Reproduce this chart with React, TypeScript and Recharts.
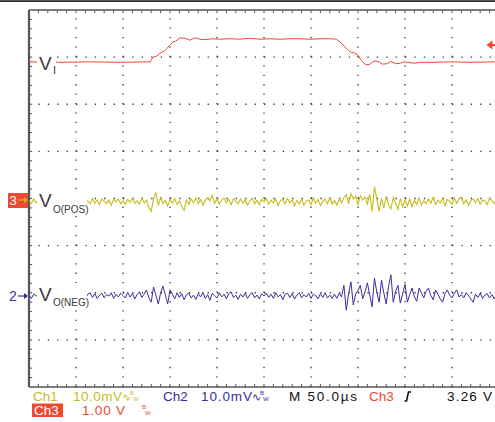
import { ComposedChart, Line, XAxis, YAxis, ReferenceLine } from "recharts";

// Scope screenshot: Ch1 / Ch2 at 10 mV/div, Ch3 at 1 V/div, 50 µs/div.
const SAMPLE_US = 2.5;

// Ch1 (VO(POS)) deviation, mV, one value per 2.5 µs
const ch1Noise = [
  0.3, -0.4, 0.6, -0.2, 0.4, -0.5, 0.2, 0.5, -0.3, 0.1,
  -0.6, 0.4, 0.0, 0.5, -0.4, 0.3, -0.2, 0.6, -0.5, 0.2,
  0.4, -0.3, 0.1, -0.6, 0.5, 0.2, -0.4, 0.7, -0.3, 0.4,
  -0.5, 0.6, 0.1, -0.4, 0.3, -0.7, 0.5, 0.0, 0.6, -0.4,
  0.2, -0.6, 0.5, -0.1, 0.7, -0.3, 0.2, -0.5, 0.8, -0.2,
  0.4, -1.2, -2.0, 0.6, 1.9, -0.8, 0.9, -0.4, 0.3, -0.9,
  0.5, -0.3, 0.7, -0.6, 0.2, -1.0, -1.8, 0.4, -0.5, 0.6,
  -0.2, 0.8, -0.4, 0.5, -0.7, 0.3, 0.9, 0.2, 1.4, -0.3,
  0.6, -0.5, 0.4, 0.8, -0.2, 0.5, -0.6, 0.7, 0.1, -0.4,
  0.6, -0.3, 0.4, -0.7, 0.2, 0.8, -0.4, 0.3, -0.6, 0.5,
  0.0, 0.7, -0.5, 0.4, -0.2, 0.6, -0.8, 0.3, 0.5, -0.4,
  0.7, -0.2, 0.4, -0.9, 0.3, -0.5, 0.6, -0.7, 0.2, 0.4,
  -0.6, 0.8, -0.3, 0.5, -0.8, 0.1, 0.6, -0.4, 0.9, -0.5,
  0.3, -0.7, 0.6, -0.2, 0.9, 1.5, -0.4, 1.7, 0.6, 1.2,
  -0.6, 1.3, 0.4, 1.0, -0.5, 1.6, -2.1, 3.2, 0.5, -2.1,
  0.8, -1.3, 1.2, -0.6, -1.5, 0.9, -0.3, -1.6, 0.7, -1.1,
  0.4, -0.9, 0.6, -1.0, 0.3, -0.5, 0.8, -0.7, 0.2, -0.4,
  0.6, -0.3, 0.9, -0.6, 0.4, -0.2, 0.7, -0.8, 0.5, 0.1,
  -0.5, 0.8, -0.3, 0.6, 1.0, -0.4, 0.5, -0.7, 0.3, 0.6,
  -0.2, 0.7, -0.5, 0.4, 0.1, -0.6, 0.8, 0.2, -0.3, 0.5, 0.0,
];

// Ch2 (VO(NEG)) deviation, mV
const ch2Noise = [
  0.2, -0.5, 0.4, 0.1, -0.3, 0.6, -0.4, 0.2, 0.5, -0.2,
  0.3, -0.6, 0.4, 0.0, 0.5, -0.3, 0.2, -0.5, 0.6, 0.1,
  -0.4, 0.5, -0.2, 0.3, -0.6, 0.4, 0.7, -0.3, 0.5, -0.5,
  0.2, 0.6, -0.4, 0.3, 0.0, 0.7, -0.5, 0.4, -0.2, 0.6,
  0.1, -0.4, 0.8, -0.2, 0.5, -0.6, 0.3, 0.9, -0.3, 0.4,
  1.3, -0.4, -1.3, 1.9, 0.2, -1.7, 0.6, 2.1, 0.3, -1.7,
  1.3, 0.4, -0.6, 0.7, -0.3, 0.5, -0.8, 0.3, 0.6, -0.4,
  0.2, -0.7, 0.5, -0.2, 0.8, -0.5, 0.3, -0.9, 0.6, 0.1,
  -0.4, 0.7, -0.2, 0.4, -0.6, 0.5, 0.9, -0.3, 0.2, -0.7,
  0.4, -0.2, 0.6, -0.5, 0.3, 0.7, -0.4, 0.2, -0.6, 0.5,
  0.0, 0.6, -0.3, 0.4, -0.5, 0.7, -0.2, 0.3, -0.8, 0.4,
  0.6, -0.3, 0.5, -0.6, 0.2, 0.7, -0.4, 0.3, -0.2, 0.6,
  -0.5, 0.4, 0.1, -0.6, 0.5, -0.3, 0.7, -0.4, 0.2, -0.5,
  0.4, -0.5, 0.6, -0.2, 2.3, -3.0, 0.5, 3.0, -1.9, 0.4,
  1.2, 2.3, -0.6, 0.9, 2.8, 0.2, -2.3, 3.8, 0.8, -1.3,
  3.4, 0.6, -1.7, 2.0, 4.5, -1.3, 1.0, 2.3, -1.5, 0.5,
  2.5, -1.3, 0.3, 1.7, -0.2, -1.1, 1.7, 0.6, -0.4, 1.0,
  1.7, 0.1, -0.8, 1.3, 0.4, -0.6, -1.3, 0.5, 1.3, 0.2,
  -0.4, 0.6, 1.3, -0.2, 0.3, -0.4, 0.7, 0.1, -0.6, -1.3,
  0.4, -0.3, 0.6, -0.5, 0.2, 0.5, -0.4, 0.3, -0.6, 0.4, -0.1,
];

// Ch3 (VI), time in µs and volts
const ch3Time = [
  0, 33, 65, 97, 129, 132, 136, 139, 144, 147, 150, 153, 156, 161, 166, 171,
  177, 182, 187, 195, 203, 214, 224, 235, 246, 256, 267, 278, 288, 299, 310,
  320, 327, 331, 334, 338, 341, 346, 349, 352, 355, 358, 362, 365, 368, 372,
  376, 381, 385, 390, 395, 399, 403, 410, 416, 432, 448, 469, 500,
];
const ch3Volts = [
  2.95, 2.94, 2.95, 2.94, 2.95, 3.05, 3.07, 3.13, 3.18, 3.24, 3.31, 3.37, 3.39,
  3.46, 3.45, 3.41, 3.46, 3.43, 3.42, 3.44, 3.43, 3.44, 3.43, 3.45, 3.43, 3.44,
  3.43, 3.44, 3.44, 3.43, 3.44, 3.44, 3.43, 3.37, 3.31, 3.23, 3.17, 3.14, 3.11,
  3.03, 2.95, 2.89, 2.89, 2.94, 2.97, 2.95, 2.90, 2.91, 2.96, 2.91, 2.92, 2.95,
  2.94, 2.92, 2.94, 2.94, 2.95, 2.94, 2.95,
];

const majorT = [50, 100, 150, 200, 250, 300, 350, 400, 450];
const majorDiv = [1, 2, 3, 4, 5, 6, 7];

// channel ground positions (divisions from bottom) and scales
const CH1_POS = 3.93;
const CH2_POS = 1.93;
const CH3_POS = 3.95;
const CH1_MV_DIV = 10;
const CH2_MV_DIV = 10;
const CH3_V_DIV = 1;

// graticule: 10 x 8 divisions, 5 minor ticks per division
const T_SPAN = 500;
const DIVS = 8;
const minorT = Array.from({ length: 50 }, (_, i) => (i + 1) * 10);
const minorDiv = Array.from({ length: 39 }, (_, i) => (i + 1) * 0.2);
const TICK_T = 3.4; // µs, ~3 px
const TICK_DIV = 0.065; // div, ~3 px

const noiseData = ch1Noise.map((v, i) => ({
  t: i * SAMPLE_US,
  ch1: CH1_POS + v / CH1_MV_DIV,
  ch2: CH2_POS + ch2Noise[i] / CH2_MV_DIV,
}));
const ch3Data = ch3Time.map((t, i) => ({ t, ch3: CH3_POS + ch3Volts[i] / CH3_V_DIV }));

const YEL = "#C6BD1C";
const BLU = "#3A2E9C";
const RED = "#EC4A32";
const FRAME = "#555";
const FONT = "'Liberation Sans', Arial, sans-serif";

export default function App() {
  return (
    <div
      style={{
        position: "fixed",
        left: 0,
        top: 0,
        width: 495,
        height: 422,
        overflow: "hidden",
        background: "#fff",
      }}
    >
      <ComposedChart
        width={505}
        height={422}
        margin={{ top: 10, right: 6, left: 29, bottom: 35 }}
      >
        <XAxis xAxisId="b" type="number" dataKey="t" domain={[0, T_SPAN]} hide allowDataOverflow />
        <YAxis yAxisId="l" type="number" domain={[0, DIVS]} hide allowDataOverflow />

        {majorT.map((t) => (
          <ReferenceLine
            key={`vx${t}`}
            xAxisId="b"
            yAxisId="l"
            x={t}
            stroke="#333"
            strokeWidth={1.3}
            strokeDasharray="1.3 8.125"
          />
        ))}
        {majorDiv.map((d) => (
          <ReferenceLine
            key={`hy${d}`}
            xAxisId="b"
            yAxisId="l"
            y={d}
            stroke="#333"
            strokeWidth={1.3}
            strokeDasharray="1.3 8.1"
          />
        ))}

        {/* frame */}
        <ReferenceLine xAxisId="b" yAxisId="l" x={0} stroke={FRAME} strokeWidth={2.2} />
        <ReferenceLine xAxisId="b" yAxisId="l" y={DIVS} stroke={FRAME} strokeWidth={1.3} />
        <ReferenceLine xAxisId="b" yAxisId="l" y={0} stroke={FRAME} strokeWidth={1.3} />
        {minorT.map((t) => (
          <ReferenceLine
            key={`tt${t}`}
            xAxisId="b"
            yAxisId="l"
            segment={[{ x: t, y: DIVS }, { x: t, y: DIVS - TICK_DIV }]}
            stroke={FRAME}
            strokeWidth={1}
            ifOverflow="visible"
          />
        ))}
        {minorT.map((t) => (
          <ReferenceLine
            key={`bt${t}`}
            xAxisId="b"
            yAxisId="l"
            segment={[{ x: t, y: 0 }, { x: t, y: TICK_DIV }]}
            stroke={FRAME}
            strokeWidth={1}
            ifOverflow="visible"
          />
        ))}
        {minorDiv.map((d) => (
          <ReferenceLine
            key={`lt${d}`}
            xAxisId="b"
            yAxisId="l"
            segment={[{ x: 0, y: d }, { x: TICK_T, y: d }]}
            stroke={FRAME}
            strokeWidth={1}
            ifOverflow="visible"
          />
        ))}

        <Line
          xAxisId="b"
          yAxisId="l"
          data={noiseData}
          dataKey="ch1"
          type="linear"
          stroke={YEL}
          strokeWidth={1.1}
          dot={false}
          isAnimationActive={false}
        />
        <Line
          xAxisId="b"
          yAxisId="l"
          data={noiseData}
          dataKey="ch2"
          type="linear"
          stroke={BLU}
          strokeWidth={1}
          dot={false}
          isAnimationActive={false}
        />
        <Line
          xAxisId="b"
          yAxisId="l"
          data={ch3Data}
          dataKey="ch3"
          type="linear"
          stroke={RED}
          strokeWidth={1}
          dot={false}
          isAnimationActive={false}
        />
      </ComposedChart>

      <svg
        width={495}
        height={422}
        style={{ position: "absolute", left: 0, top: 0, pointerEvents: "none" }}
        fontFamily={FONT}
      >
        <rect x={0} y={0.3} width={495} height={1.6} fill="#111" />

        {/* trace labels */}
        <rect x={37} y={50} width={19} height={26} fill="#fff" />
        <text x={39} y={70} fontSize={19} fill="#3a3a3a">V</text>
        <text x={53} y={74} fontSize={11} fill="#3a3a3a">I</text>

        <rect x={37} y={189} width={50} height={27} fill="#fff" />
        <text x={39} y={207} fontSize={19} fill="#3a3a3a">V</text>
        <text x={53} y={213} fontSize={10} fill="#3a3a3a">O(POS)</text>

        <rect x={37} y={283} width={50} height={26} fill="#fff" />
        <text x={39} y={301} fontSize={19} fill="#3a3a3a">V</text>
        <text x={53} y={306} fontSize={10} fill="#3a3a3a">O(NEG)</text>

        {/* channel markers */}
        <rect x={8} y={193} width={20} height={15} fill={RED} />
        <text x={9.5} y={205} fontSize={13} fill="#fff">3</text>
        <line x1={18} y1={200} x2={27} y2={200} stroke={YEL} strokeWidth={1.2} />
        <path d="M24,197 L28,200 L24,203 Z" fill={YEL} />

        <text x={9} y={301} fontSize={14} fill={BLU}>2</text>
        <line x1={18} y1={296} x2={27} y2={296} stroke={BLU} strokeWidth={1.2} />
        <path d="M24,293 L28,296 L24,299 Z" fill={BLU} />

        {/* trigger level */}
        <path d="M486.5,45 L492.5,40.5 L492.5,49.5 Z" fill={RED} />
        <line x1={491} y1={45} x2={495} y2={45} stroke={RED} strokeWidth={2} />

        {/* readout row 1 */}
        <text x={33} y={400.5} fontSize={13.5} fill={YEL}>Ch1</text>
        <text x={73} y={400.5} fontSize={13.5} fill={YEL} textLength={49} lengthAdjust="spacing">10.0mV</text>
        <text x={122} y={400.5} fontSize={11} fill={YEL}>∿</text>
        <text x={130} y={395} fontSize={6} fill={YEL}>B</text>
        <text x={133} y={400.5} fontSize={6} fill={YEL}>W</text>

        <text x={163} y={400.5} fontSize={13.5} fill={BLU}>Ch2</text>
        <text x={201} y={400.5} fontSize={13.5} fill={BLU} textLength={51} lengthAdjust="spacing">10.0mV</text>
        <text x={252} y={400.5} fontSize={11} fill={BLU}>∿</text>
        <text x={260} y={395} fontSize={6} fill={BLU}>B</text>
        <text x={263} y={400.5} fontSize={6} fill={BLU}>W</text>

        <text x={289} y={400.5} fontSize={13.5} fill="#111" textLength={68} lengthAdjust="spacing">M 50.0µs</text>
        <text x={369} y={400.5} fontSize={13.5} fill={RED}>Ch3</text>
        <path d="M404.5,401 L406.5,401 L408.5,392 L411,392" stroke="#111" strokeWidth={1.6} fill="none" />
        <text x={492} y={400.5} fontSize={13.5} fill="#111" textAnchor="end" textLength={45} lengthAdjust="spacing">3.26 V</text>

        {/* readout row 2 */}
        <rect x={32} y={403.5} width={31} height={13.5} fill={RED} />
        <text x={34} y={415} fontSize={13.5} fill="#fff">Ch3</text>
        <text x={82} y={415} fontSize={13.5} fill={RED} textLength={43} lengthAdjust="spacing">1.00 V</text>
        <text x={142} y={409} fontSize={6} fill={RED}>B</text>
        <text x={145} y={415} fontSize={6} fill={RED}>W</text>
      </svg>
    </div>
  );
}
